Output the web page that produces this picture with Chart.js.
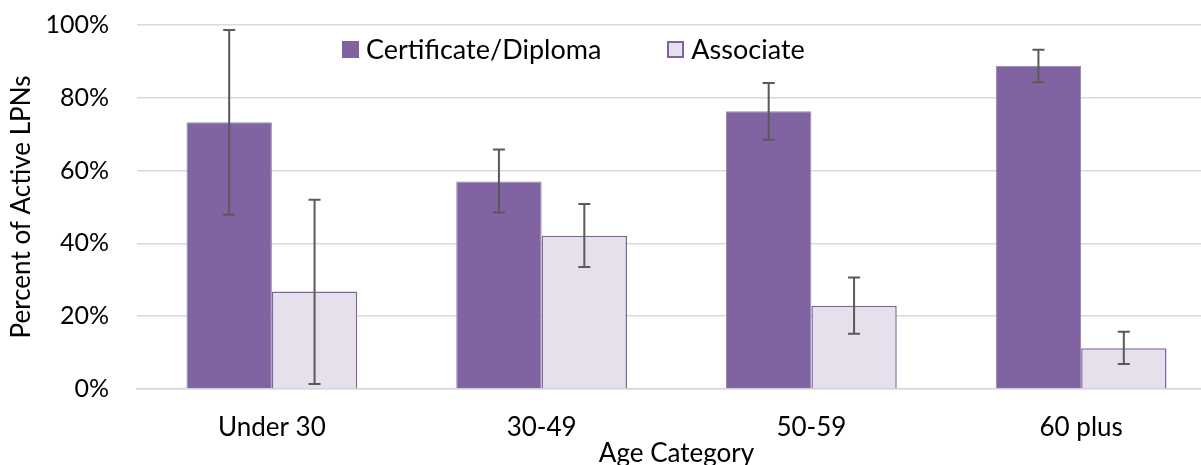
<!DOCTYPE html>
<html>
<head>
<meta charset="utf-8">
<script src="https://cdn.jsdelivr.net/npm/chart.js@4.4.1/dist/chart.umd.min.js"></script>
<style>
  html, body { margin: 0; padding: 0; background: #fff; overflow: hidden; }
  #wrap { position: relative; width: 1230px; height: 472px; }
  #legend {
    position: absolute; top: 33px; left: 342px;
    font-family: Lato, sans-serif; font-size: 27px; color: #000;
    display: flex; align-items: center; white-space: nowrap; line-height: 32px;
  }
  .item { display: flex; align-items: center; }
  .box { width: 17px; height: 17px; margin-right: 7px; box-sizing: border-box; }
</style>
</head>
<body>
<div id="wrap">
  <canvas id="chart" width="1230" height="472"></canvas>
  <div id="legend"></div>
</div>
<script>
// categories and values (percent)
const categories = ['Under 30', '30-49', '50-59', '60 plus'];
const certValues = [73.3, 57.0, 76.3, 88.8];
const assocValues = [26.8, 42.1, 22.9, 11.2];
// error bar ranges [low, high]
const certLow = [47.9, 48.5, 68.5, 84.3];
const certHigh = [98.6, 65.8, 84.1, 93.2];
const assocLow = [1.4, 33.5, 15.2, 6.9];
const assocHigh = [52.0, 50.8, 30.6, 15.7];
const yTicks = [0, 20, 40, 60, 80, 100];

const FONT = 'Lato, sans-serif';
const PURPLE = '#8064A2';
const LAVENDER = '#E6E0EC';

const errorRanges = [
  { low: certLow, high: certHigh },
  { low: assocLow, high: assocHigh }
];

// draws the whisker bars on top of each column
const errorBarPlugin = {
  id: 'errorBars',
  afterDatasetsDraw(chart) {
    const ctx = chart.ctx;
    const y = chart.scales.y;
    ctx.save();
    ctx.strokeStyle = '#595959';
    ctx.lineWidth = 2;
    chart.data.datasets.forEach((ds, di) => {
      const meta = chart.getDatasetMeta(di);
      meta.data.forEach((bar, i) => {
        const yl = y.getPixelForValue(errorRanges[di].low[i]);
        const yh = y.getPixelForValue(errorRanges[di].high[i]);
        ctx.beginPath();
        ctx.moveTo(bar.x, yl); ctx.lineTo(bar.x, yh);
        ctx.moveTo(bar.x - 6, yl); ctx.lineTo(bar.x + 6, yl);
        ctx.moveTo(bar.x - 6, yh); ctx.lineTo(bar.x + 6, yh);
        ctx.stroke();
      });
    });
    ctx.restore();
  }
};

const chart = new Chart(document.getElementById('chart'), {
  type: 'bar',
  data: {
    labels: categories,
    datasets: [{
      label: 'Certificate/Diploma',
      data: certValues,
      backgroundColor: PURPLE,
      borderColor: '#9583B1',
      borderWidth: 1,
      categoryPercentage: 0.633,
      barPercentage: 1.0
    }, {
      label: 'Associate',
      data: assocValues,
      backgroundColor: LAVENDER,
      borderColor: PURPLE,
      borderWidth: 1.5,
      categoryPercentage: 0.633,
      barPercentage: 1.0
    }]
  },
  options: {
    responsive: false,
    animation: false,
    layout: { padding: { top: 25, right: 14, left: 0, bottom: 0 } },
    plugins: {
      legend: { display: false },
      tooltip: { enabled: false }
    },
    scales: {
      y: {
        min: 0,
        max: 100,
        afterBuildTicks(scale) { scale.ticks = yTicks.map(v => ({ value: v })); },
        afterFit(scale) {
          scale.width = 137;
          scale.paddingTop = 0;
          scale.paddingBottom = 0;
        },
        grid: { color: '#D9D9D9', lineWidth: 1.5, drawTicks: false },
        border: { display: false },
        ticks: {
          padding: 28,
          color: '#000',
          font: { family: FONT, size: 25 },
          callback: v => v + '%'
        },
        title: {
          display: true,
          text: 'Percent of Active LPNs',
          color: '#000',
          font: { family: FONT, size: 26 },
          padding: { top: 6, bottom: 0 }
        }
      },
      x: {
        afterFit(scale) { scale.height = 83; },
        grid: { display: false, drawTicks: false },
        border: { color: '#D9D9D9', width: 1.5 },
        ticks: {
          padding: 23,
          color: '#000',
          font: { family: FONT, size: 26 }
        },
        title: {
          display: true,
          text: 'Age Category',
          color: '#000',
          font: { family: FONT, size: 26 },
          padding: { top: 2, bottom: 3 }
        }
      }
    }
  },
  plugins: [errorBarPlugin]
});

// html legend built from the datasets
const legendEl = document.getElementById('legend');
chart.data.datasets.forEach((ds, i) => {
  const item = document.createElement('div');
  item.className = 'item';
  if (i > 0) item.style.marginLeft = '66px';
  const box = document.createElement('div');
  box.className = 'box';
  box.style.background = ds.backgroundColor;
  box.style.border = '2px solid ' + PURPLE;
  const txt = document.createElement('span');
  txt.textContent = ds.label;
  item.appendChild(box);
  item.appendChild(txt);
  legendEl.appendChild(item);
});
</script>
</body>
</html>
